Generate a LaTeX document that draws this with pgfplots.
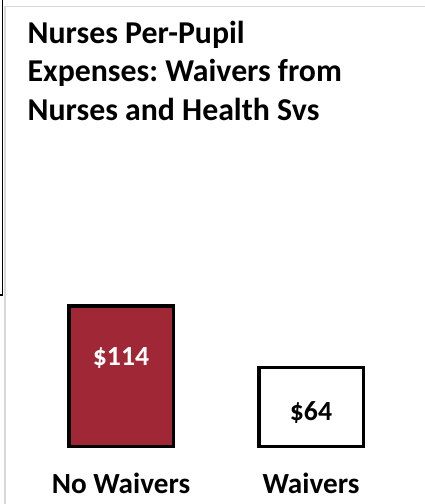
\documentclass[border=0pt]{standalone}
\usepackage{fontspec}
\setmainfont{Carlito}
\usepackage{pgfplots}
\pgfplotsset{compat=1.18}
\definecolor{barred}{HTML}{A02735}
\definecolor{frameg}{HTML}{D9D9D9}
\frenchspacing
\begin{document}
\begin{tikzpicture}
\draw[frameg, line width=1.3bp] (5bp,0bp) -- (5bp,497.5bp) -- (425bp,497.5bp);
\draw[black, line width=1.4bp] (2.5bp,504bp) -- (2.5bp,209bp) -- (0bp,209bp);
\node[anchor=base west, inner sep=0pt, font=\bfseries\fontsize{31.8bp}{36bp}\selectfont] at (27.5bp,460.7bp) {Nurses Per-Pupil};
\node[anchor=base west, inner sep=0pt, font=\bfseries\fontsize{31.8bp}{36bp}\selectfont] at (27.5bp,422.2bp) {Expenses: Waivers from};
\node[anchor=base west, inner sep=0pt, font=\bfseries\fontsize{31.8bp}{36bp}\selectfont] at (27.5bp,383.7bp) {Nurses and Health Svs};
\begin{axis}[
  at={(26bp,57.5bp)}, anchor=south west,
  x=190bp, y=1.2346bp,
  xmin=-0.5, xmax=1.5, ymin=0, ymax=150,
  clip=false,
  axis line style={draw=none},
  major tick length=0pt,
  ytick=\empty,
  xtick={0,1},
  xticklabels={No Waivers, Waivers},
  xticklabel style={anchor=base, yshift=-46.5bp, inner sep=0pt, font=\bfseries\fontsize{29.2bp}{34bp}\selectfont},
  ybar, bar width=104.5bp,
]
\addplot[bar shift=0pt, fill=barred, draw=black, line width=3.5bp] coordinates {(0,114)};
\addplot[bar shift=0pt, fill=white, draw=black, line width=3.5bp] coordinates {(1,64)};
\addplot[bar shift=0pt, only marks, mark=none, draw=none, point meta=explicit symbolic,
  nodes near coords, nodes near coords align=center,
  every node near coord/.append style={text=white, anchor=center, inner sep=0pt, xshift=0pt, yshift=0pt, font=\bfseries\fontsize{27.7bp}{30bp}\selectfont}]
  coordinates {(0,71.7) [\$114]};
\addplot[bar shift=0pt, only marks, mark=none, draw=none, point meta=explicit symbolic,
  nodes near coords, nodes near coords align=center,
  every node near coord/.append style={text=black, anchor=center, inner sep=0pt, xshift=0pt, yshift=0pt, font=\bfseries\fontsize{27.7bp}{30bp}\selectfont}]
  coordinates {(1,27.9) [\$64]};
\end{axis}
\pgfresetboundingbox
\useasboundingbox (0bp,0bp) rectangle (425bp,504bp);
\end{tikzpicture}
\end{document}
